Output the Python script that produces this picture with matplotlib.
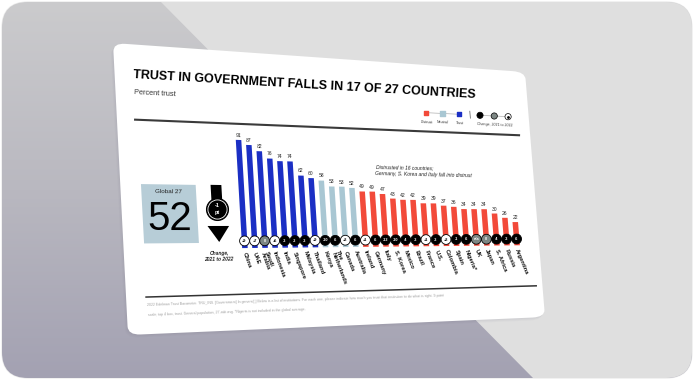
import numpy as np
import matplotlib
matplotlib.use("Agg")
import matplotlib.pyplot as plt
import matplotlib.transforms as mtransforms
from matplotlib.patches import Rectangle, Polygon, FancyBboxPatch
from matplotlib.colors import LinearSegmentedColormap

plt.rcParams['font.family'] = 'Liberation Sans'

### chart data
countries = ["China", "UAE", "Saudi\nArabia", "Indonesia", "India", "Singapore", "Malaysia",
             "Thailand", "Kenya", "The\nNetherlands", "Canada", "Australia", "Ireland",
             "Germany", "Italy", "S. Korea", "Mexico", "Brazil", "France", "U.S.",
             "Colombia", "Spain", "Nigeria*", "UK", "Japan", "S. Africa", "Russia", "Argentina"]
trust = [91, 87, 82, 76, 74, 74, 62, 60, 58, 53, 53, 52, 49, 49, 47, 43, 42, 42,
         39, 39, 37, 36, 34, 34, 34, 30, 26, 22]
change = ["+9", "+7", "0", "+6", "-3", "-2", "-3", "+9", "-10", "-6", "+3", "-6",
          "+1", "-6", "-12", "-10", "-4", "-3", "+1", "-3", "+3", "-1", "-6", "n/a",
          "0", "-4", "-3", "-6"]
global_trust = 52
global_change = "-1\npt"

title = "TRUST IN GOVERNMENT FALLS IN 17 OF 27 COUNTRIES"
subtitle = "Percent trust"
note = "Distrusted in 16 countries;\nGermany, S. Korea and Italy fall into distrust"
source = ["2022 Edelman Trust Barometer. TRU_INS. [Government] In general[,] Below is a list of institutions. "
          "For each one, please indicate how much you trust that institution to do what is right. 9-point",
          "scale; top 4 box, trust. General population, 27-mkt avg. *Nigeria is not included in the global average."]

BLUE, LIGHT, RED = '#1b2fc4', '#a9c7d3', '#f24a3a'


### slide -> picture mapping (the slide is photographed in perspective)
class Bilinear(mtransforms.Transform):
    input_dims = 2
    output_dims = 2
    is_separable = False
    has_inverse = False

    def __init__(self, corners):
        super().__init__()
        self.c = np.asarray(corners, float)

    def transform_non_affine(self, values):
        p = np.asarray(values, float).reshape(-1, 2)
        u, w = p[:, :1], p[:, 1:]
        tl, tr, br, bl = self.c
        return (1 - u) * (1 - w) * tl + u * (1 - w) * tr + u * w * br + (1 - u) * w * bl


fig = plt.figure(figsize=(6.94, 3.8), dpi=100)
fig.patch.set_facecolor('white')
ax = fig.add_axes([0, 0, 1, 1])
ax.set_xlim(0, 694)
ax.set_ylim(380, 0)
ax.set_autoscale_on(False)
ax.axis('off')

### background
frame = FancyBboxPatch((2, 2), 690, 376, boxstyle="round,pad=0,rounding_size=26",
                       fc='#dfdfdf', ec='#ececec', lw=1.0, zorder=0)
ax.add_patch(frame)
grad = np.linspace(0, 1, 200).reshape(-1, 1)
cmap = LinearSegmentedColormap.from_list('bg', ['#cbcbcd', '#b9b8c0', '#a3a1b2'])
img = ax.imshow(grad, extent=(0, 694, 380, 0), cmap=cmap, aspect='auto', zorder=0.5)
img.set_clip_path(frame)
light = Polygon([(159, 0), (694, 0), (694, 380), (535, 380)], closed=True,
                fc='#dfdfdf', ec='none', zorder=0.6)
ax.add_patch(light)
light.set_clip_path(frame)

persp = Bilinear([(113, 43), (525, 72), (545, 317), (128, 335)])
T = persp + ax.transData

for k in range(3):
    sh = FancyBboxPatch((0, 0), 1, 1, boxstyle="round,pad=0,rounding_size=0.03",
                        transform=persp + mtransforms.Affine2D().translate(-0.5 - k, 1 + k) + ax.transData,
                        fc='#55536a', ec='none', alpha=0.03, zorder=1)
    ax.add_patch(sh)
card = FancyBboxPatch((0, 0), 1, 1, boxstyle="round,pad=0,rounding_size=0.03",
                      transform=T, fc='white', ec='none', zorder=2)
ax.add_patch(card)


def put(x, y, s, tf, du=0.01, dv=0.0, **kw):
    p = tf.transform([(x, y), (x + du, y + dv)])
    ang = np.degrees(np.arctan2(p[1, 1] - p[0, 1], p[1, 0] - p[0, 0]))
    return ax.text(x, y, s, transform=tf, rotation=ang, rotation_mode='anchor', zorder=6, **kw)


### header
put(0.045, 0.105, title, T, ha='left', va='center', fontsize=9.0, fontweight='bold', color='black')
put(0.045, 0.165, subtitle, T, ha='left', va='center', fontsize=5.3, color='#333333')
ax.plot([0.044, 0.973], [0.26, 0.26], transform=T, color='#3a3a3a', lw=1.5, zorder=3)
ax.plot([0.048, 0.985], [0.872, 0.872], transform=T, color='#333333', lw=1.1, zorder=3)

### legend
leg_u = [0.752, 0.791, 0.832]
ax.plot(leg_u, [0.1865] * 3, transform=T, color='#b0b0b0', lw=0.5, zorder=3)
ax.scatter(leg_u, [0.1865] * 3, transform=T, marker='s', s=9, c=[RED, LIGHT, BLUE], zorder=4)
for u, lab in zip(leg_u, ["Distrust", "Neutral", "Trust"]):
    put(u, 0.222, lab, T, ha='center', va='center', fontsize=2.6, color='#333333')
ax.plot([0.858, 0.858], [0.172, 0.2], transform=T, color='#555555', lw=0.5, zorder=3)
chg_u = [0.882, 0.9165, 0.950]
ax.plot(chg_u, [0.1865] * 3, transform=T, color='#b0b0b0', lw=0.5, zorder=3)
ax.scatter(chg_u, [0.1865] * 3, transform=T, s=20, c=['black', '#7d8784', 'white'],
           edgecolors='black', linewidths=0.5, zorder=4)
ax.scatter([chg_u[2]], [0.1865], transform=T, s=1, c='black', zorder=5)
put(chg_u[1], 0.222, "Change, 2021 to 2022", T, ha='center', va='center', fontsize=2.6, color='#333333')

### global box and change arrow
ax.add_patch(Rectangle((0.050, 0.482), 0.132, 0.205, transform=T, fc='#b7cdd7', ec='none', zorder=3))
put(0.115, 0.508, "Global 27", T, ha='center', va='center', fontsize=4.5, color='#222222')
put(0.115, 0.602, str(global_trust), T, ha='center', va='center', fontsize=29, color='black')

au = 0.231
ax.add_patch(Rectangle((au - 0.013, 0.481), 0.026, 0.06, transform=T, fc='black', ec='none', zorder=3))
ax.add_patch(Polygon([(au - 0.026, 0.627), (au + 0.026, 0.627), (au, 0.684)], closed=True,
                     transform=T, fc='black', ec='none', zorder=3))
ax.scatter([au], [0.567], transform=T, s=250, c='black', edgecolors='black', linewidths=0.8, zorder=4)
ax.scatter([au], [0.567], transform=T, s=190, c='black', edgecolors='white', linewidths=0.6, zorder=4)
put(au, 0.567, global_change, T, ha='center', va='center', fontsize=4, fontweight='bold',
    color='white', linespacing=1.3)
put(au - 0.002, 0.734, "Change,\n2021 to 2022", T, ha='center', va='center', fontsize=3.6,
    fontweight='bold', fontstyle='italic', color='#222222')

### bars
u0, pitch = 0.292, 0.02426
vbase, vscale = 0.7065, 0.00427
bar_tf = mtransforms.Affine2D().scale(pitch, -vscale).translate(u0, vbase) + T

idx = np.arange(len(trust))
colors = [BLUE if t >= 60 else LIGHT if t >= 50 else RED for t in trust]
ax.bar(idx, trust, width=0.55, color=colors, transform=bar_tf, zorder=3)

for i, t in enumerate(trust):
    put(i, t + 1.8, str(t), bar_tf, du=1.0, ha='center', va='bottom', fontsize=3.6, color='#222222')

circ_fc, circ_tc = [], []
for c in change:
    if c.startswith('+'):
        circ_fc.append('white'); circ_tc.append('black')
    elif c.startswith('-'):
        circ_fc.append('black'); circ_tc.append('white')
    else:
        circ_fc.append('#7d8784'); circ_tc.append('white')
ax.scatter(idx, [6] * len(idx), transform=bar_tf, s=50, c=circ_fc, edgecolors='black',
           linewidths=0.6, zorder=4)
for i, c in enumerate(change):
    put(i, 6, c, bar_tf, du=1.0, ha='center', va='center', fontsize=2.8, fontweight='bold',
        color=circ_tc[i])

### country labels, steep diagonal as seen in the photo
ddu = 0.01 / pitch
ddv = -0.05 / vscale
for i, name in enumerate(countries):
    put(i - 0.1, -3.5, name, bar_tf, du=ddu, dv=ddv, ha='left', va='center', fontsize=4.2,
        fontweight='bold', color='#111111', linespacing=1.0)

### annotation and source
put(0.619, 0.414, note, T, ha='left', va='center', fontsize=3.6, fontstyle='italic',
    color='#222222', linespacing=1.5)
put(0.05, 0.8995, source[0], T, ha='left', va='center', fontsize=2.5, color='#a0a0a0')
put(0.05, 0.934, source[1], T, ha='left', va='center', fontsize=2.5, color='#a0a0a0')

fig.savefig('out.png', dpi=100, facecolor=fig.get_facecolor())
